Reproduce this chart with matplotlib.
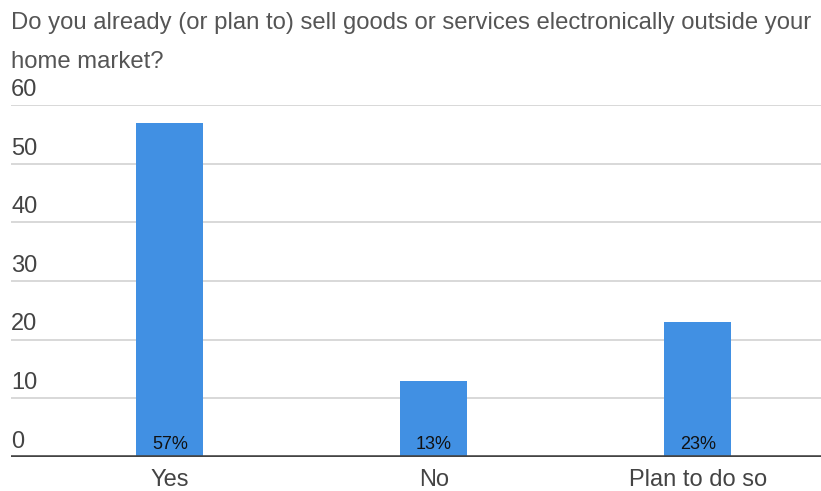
import matplotlib.pyplot as plt

categories = ["Yes", "No", "Plan to do so"]
values = [57, 13, 23]
labels = ["57%", "13%", "23%"]
yticks = [0, 10, 20, 30, 40, 50, 60]

plt.rcParams['font.family'] = ['Liberation Sans', 'DejaVu Sans']

W, H = 821, 491
fig = plt.figure(figsize=(W / 100, H / 100), dpi=100)
ax = fig.add_axes([11 / W, 1 - 457 / H, 1 - 11 / W, (457 - 105) / H])

x = list(range(len(categories)))
ax.bar(x, values, width=0.254, color="#4190e3", zorder=3)
ax.set_xlim(-0.602, 2.466)
ax.set_ylim(0, 60)

for xi, v, lab in zip(x, values, labels):
    ax.annotate(lab, (xi, 0), xytext=(0, 3), textcoords="offset points",
                ha="center", va="bottom", fontsize=13, color="#111111", zorder=4)

for t in yticks:
    ax.axhline(t, color="#d6d6d6", lw=1.3, zorder=1)
    ax.annotate(str(t), (0, t), xycoords=("axes fraction", "data"),
                xytext=(0, 3), textcoords="offset points",
                ha="left", va="bottom", fontsize=17, color="#444444")
ax.axhline(0, color="#444444", lw=2.6, zorder=5)

ax.set_yticks([])
ax.set_xticks(x)
ax.set_xticklabels(categories, fontsize=17, color="#444444")
ax.tick_params(axis="x", length=0, pad=9)
for s in ax.spines.values():
    s.set_visible(False)

fig.text(11 / W, 1 - 23 / H, "Do you already (or plan to) sell goods or services electronically outside your",
         ha="left", va="center", fontsize=17.2, color="#555555")
fig.text(11 / W, 1 - 62 / H, "home market?",
         ha="left", va="center", fontsize=17.2, color="#555555")

fig.savefig("out.png", dpi=100)
